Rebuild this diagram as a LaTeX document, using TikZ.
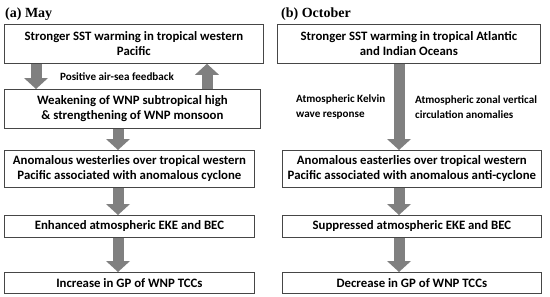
\documentclass[tikz,border=0pt]{standalone}
\usepackage{fontspec}
\setmainfont{Carlito}
\newfontfamily\titlefont{Liberation Serif}
\usepackage{xcolor}
\usepackage{tikz}
\usetikzlibrary{arrows.meta,positioning}

\definecolor{arrowgray}{RGB}{128,128,128}
\definecolor{edgegray}{RGB}{70,70,70}

\begin{document}
\begin{tikzpicture}[
    x=1pt, y=-1pt,
    box/.style={
        draw=edgegray,
        fill=white,
        align=center,
        anchor=north west,
        inner sep=1pt,
        line width=0.8pt,
        font=\bfseries\fontsize{12.8}{15}\selectfont
    },
    panel/.style={
        anchor=base west,
        inner sep=0pt,
        font=\titlefont\bfseries\fontsize{14}{16}\selectfont
    },
    note/.style={
        align=left,
        inner sep=0pt,
        font=\bfseries\fontsize{11.1}{15}\selectfont
    },
    bigarrow/.style={
        draw=arrowgray,
        line width=11pt,
        -{Triangle[width=24pt,length=11pt,line width=0pt,fill=arrowgray]}
    }
]
\useasboundingbox (0,0) rectangle (550,297);

% (a) May
\node[panel] (ta) at (5,17) {(a) May};
\node[box, minimum width=259pt, minimum height=39pt] (a1) at (4,24)
    {Stronger SST warming in tropical western\\Pacific};
\node[box, minimum width=256pt, minimum height=39pt] (a2) at (4,89)
    {Weakening of WNP subtropical high\\\& strengthening of WNP monsoon};
\node[box, minimum width=250pt, minimum height=37pt] (a3) at (4,150)
    {Anomalous westerlies over tropical western\\Pacific associated with anomalous cyclone};
\node[box, minimum width=250pt, minimum height=22pt] (a4) at (4,215)
    {Enhanced atmospheric EKE and BEC};
\node[box, minimum width=250pt, minimum height=21pt] (a5) at (4,272)
    {Increase in GP of WNP TCCs};
\node[note, align=center] (fb) at (117,77) {Positive air-sea feedback};

\draw[bigarrow] ([xshift=32pt]a1.south west) -- ([xshift=32pt]a2.north west);
\draw[bigarrow] ([xshift=203pt]a2.north west) -- ([xshift=203pt]a1.south west);
\draw[bigarrow] ([xshift=114pt]a2.south west) -- ([xshift=114pt]a3.north west);
\draw[bigarrow] ([xshift=114pt]a3.south west) -- ([xshift=114pt]a4.north west);
\draw[bigarrow] ([xshift=114pt]a4.south west) -- ([xshift=114pt]a5.north west);

% (b) October
\node[panel] (tb) at (281,17) {(b) October};
\node[box, minimum width=263pt, minimum height=39pt] (b1) at (277,24)
    {Stronger SST warming in tropical Atlantic\\and Indian Oceans};
\node[box, minimum width=259pt, minimum height=37pt] (b2) at (282,150)
    {Anomalous easterlies over tropical western\\Pacific associated with anomalous anti-cyclone};
\node[box, minimum width=259pt, minimum height=22pt] (b3) at (282,215)
    {Suppressed atmospheric EKE and BEC};
\node[box, minimum width=259pt, minimum height=21pt] (b4) at (282,272)
    {Decrease in GP of WNP TCCs};
\node[note, anchor=west] (kelvin) at (296,107) {Atmospheric Kelvin\\wave response};
\node[note, anchor=west] (zonal) at (415,107) {Atmospheric zonal vertical\\circulation anomalies};

\draw[bigarrow] ([xshift=122pt]b1.south west) -- ([xshift=117pt]b2.north west);
\draw[bigarrow] ([xshift=117pt]b2.south west) -- ([xshift=117pt]b3.north west);
\draw[bigarrow] ([xshift=117pt]b3.south west) -- ([xshift=117pt]b4.north west);
\end{tikzpicture}
\end{document}
